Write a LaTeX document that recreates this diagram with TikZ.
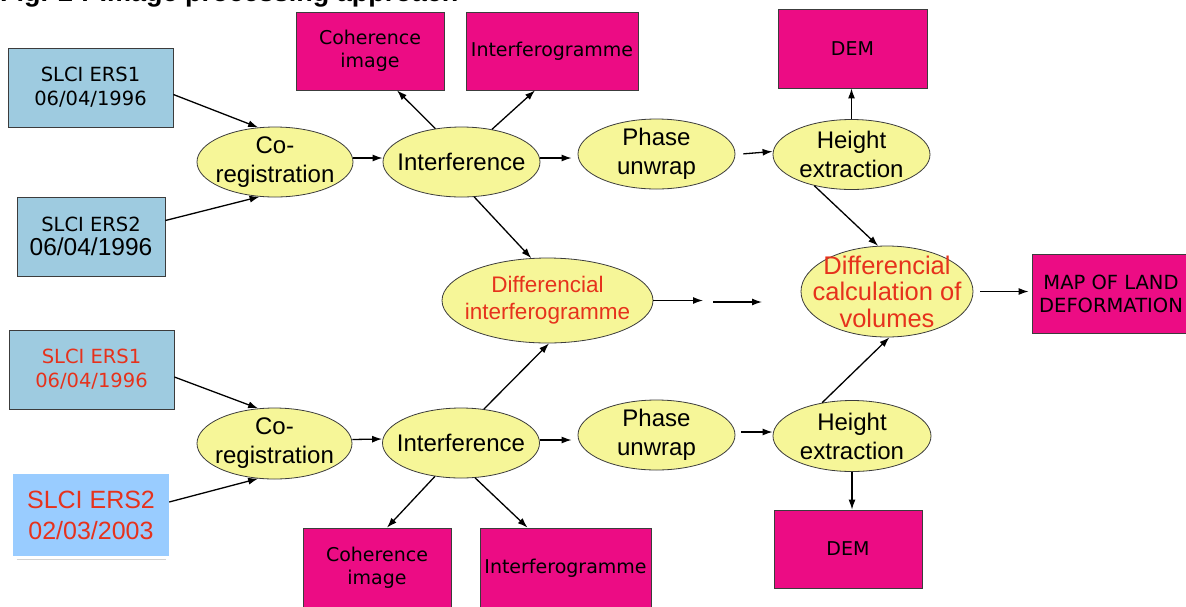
\documentclass[tikz,border=0pt]{standalone}
\usepackage{fontspec}
\setmainfont{Liberation Sans}
\newfontfamily\vfont{DejaVu Sans}
\usetikzlibrary{shapes.geometric,arrows.meta}
\definecolor{mag}{RGB}{236,12,132}
\definecolor{ylw}{RGB}{246,246,152}
\definecolor{lblue}{RGB}{158,203,224}
\definecolor{lbluetwo}{RGB}{153,204,255}
\definecolor{rtxt}{RGB}{230,50,28}
\definecolor{edgec}{RGB}{60,60,60}
\tikzset{
  proc/.style={ellipse, draw=edgec, line width=0.8pt, fill=ylw, inner sep=-45pt, align=center,
    font=\fontsize{24}{29}\selectfont},
  pbox/.style={rectangle, draw=edgec, line width=0.8pt, fill=mag, inner sep=0pt, align=center,
    font=\vfont\fontsize{19}{23}\selectfont},
  sbox/.style={rectangle, draw=edgec, line width=0.8pt, fill=lblue, inner sep=0pt, align=center,
    font=\vfont\fontsize{19.5}{24}\selectfont},
  arr/.style={-{Latex[length=10pt,width=7pt]}, line width=1.3pt},
}
\begin{document}
\begin{tikzpicture}[x=1pt,y=-1pt]
\useasboundingbox (0,0) rectangle (1186,606);
\fill[white] (0,0) rectangle (1186,606);
\clip (0,0) rectangle (1186,606);

\node[anchor=base west, font=\bfseries\fontsize{27}{27}\selectfont, inner sep=0pt] (title) at (0,1.5) {Fig. 2 : Image processing approach};

% top branch
\node[sbox, minimum width=165pt, minimum height=79pt] (ers1t) at (90.5,87.5) {SLCI ERS1\\06/04/1996};
\node[sbox, minimum width=148pt, minimum height=79pt] (ers2t) at (91,236.5) {SLCI ERS2\\{\rmfamily\fontsize{24.5}{29}\selectfont 06/04/1996}};
\node[proc, minimum width=156pt, minimum height=70pt] (coregt) at (275,162) {Co-\\registration};
\node[proc, minimum width=157pt, minimum height=70pt] (intt) at (461.5,162) {Interference};
\node[proc, minimum width=157pt, minimum height=70pt] (phaset) at (656.5,154) {Phase\\unwrap};
\node[proc, minimum width=157pt, minimum height=70pt] (heightt) at (851.5,154.5) {Height\\extraction};
\node[pbox, minimum width=148pt, minimum height=78pt] (coht) at (370,51) {Coherence\\image};
\node[pbox, minimum width=172pt, minimum height=78pt] (intft) at (552,51) {Interferogramme};
\node[pbox, minimum width=149pt, minimum height=79pt] (demt) at (852.5,48.5) {DEM};

% middle
\node[proc, minimum width=211pt, minimum height=85pt, text=rtxt, font=\fontsize{22.5}{27}\selectfont] (diffint) at (547.5,300.5) {Differencial\\interferogramme};
\node[proc, minimum width=172pt, minimum height=91pt, text=rtxt, font=\fontsize{25.5}{26.5}\selectfont] (diffcalc) at (887,291.5) {Differencial\\calculation of\\volumes};
\node[pbox, minimum width=158pt, minimum height=79pt, font=\vfont\fontsize{19.5}{23}\selectfont] (map) at (1111,293.5) {MAP OF LAND\\DEFORMATION};
\coordinate (g1) at (703,302);
\coordinate (g2s) at (713,302);
\coordinate (g2e) at (762,302);

% bottom branch
\node[sbox, minimum width=165pt, minimum height=79pt, text=rtxt] (ers1b) at (91.5,369.5) {SLCI ERS1\\06/04/1996};
\node[rectangle, fill=lbluetwo, inner sep=0pt, align=center, text=rtxt, minimum width=156pt, minimum height=82pt,
  font=\fontsize{25}{31}\selectfont] (ers2b) at (91,515) {SLCI ERS2\\02/03/2003};
\node[proc, minimum width=155pt, minimum height=71pt] (coregb) at (274.5,443.5) {Co-\\registration};
\node[proc, minimum width=157pt, minimum height=70pt] (intb) at (461,443) {Interference};
\node[proc, minimum width=157pt, minimum height=70pt] (phaseb) at (656.5,435) {Phase\\unwrap};
\node[proc, minimum width=158pt, minimum height=71pt] (heightb) at (852,436) {Height\\extraction};
\node[pbox, minimum width=148pt, minimum height=80pt] (cohb) at (377,568) {Coherence\\image};
\node[pbox, minimum width=171pt, minimum height=80pt] (intfb) at (565.5,568) {Interferogramme};
\node[pbox, minimum width=148pt, minimum height=78pt] (demb) at (848,549) {DEM};

\draw[gray!35, line width=0.7pt] ([xshift=4pt,yshift=-3pt]ers2b.south west) -- ([xshift=-3pt,yshift=-3pt]ers2b.south east);

% top arrows
\draw[arr] ([yshift=-7pt]ers1t.east) -- (coregt.116);
\draw[arr] ([yshift=16pt]ers2t.east) -- (coregt.-114);
\draw[arr] ([yshift=4pt]coregt.east) -- ([yshift=4pt]intt.west);
\draw[arr] (intt.128) -- ([xshift=27pt]coht.south);
\draw[arr] (intt.47) -- ([xshift=-17pt]intft.south);
\draw[arr, shorten >=6pt] ([yshift=4pt]intt.east) -- ([yshift=4pt]intt.east -| phaset.west);
\draw[arr, shorten <=8pt] (phaset.east |- heightt.west) -- ([yshift=3pt]heightt.west);
\draw[arr] (heightt.north) -- (heightt.north |- demt.south);
\draw[arr] (intt.-70) -- (diffint.111);
\draw[arr] (heightt.-140) -- (diffcalc.101);

% middle arrows
\draw[arr] (diffint.east) -- (diffint.east -| g1);
\draw[arr] (g2s) -- (g2e);
\draw[arr, shorten <=7pt, shorten >=3pt] (diffcalc.east) -- (diffcalc.east -| map.west);

% bottom arrows
\draw[arr] ([yshift=-7.5pt]ers1b.east) -- (coregb.115);
\draw[arr] ([yshift=13pt]ers2b.east) -- (coregb.-115);
\draw[arr] ([yshift=4pt]coregb.east) -- ([yshift=4pt]intb.west);
\draw[arr, shorten >=6pt] ([yshift=3pt]intb.east) -- ([yshift=3pt]intb.east -| phaseb.west);
\draw[arr, shorten <=6pt] ([yshift=3pt]phaseb.east) -- ([yshift=3pt]phaseb.east -| heightb.west);
\draw[arr] (heightb.south) -- (heightb.south |- demb.north);
\draw[arr] (intb.56) -- (diffint.-88);
\draw[arr] (heightb.132) -- (diffcalc.-87);
\draw[arr] (intb.-128) -- ([xshift=10pt]cohb.north);
\draw[arr] (intb.-68) -- ([xshift=-38pt]intfb.north);
\end{tikzpicture}
\end{document}
